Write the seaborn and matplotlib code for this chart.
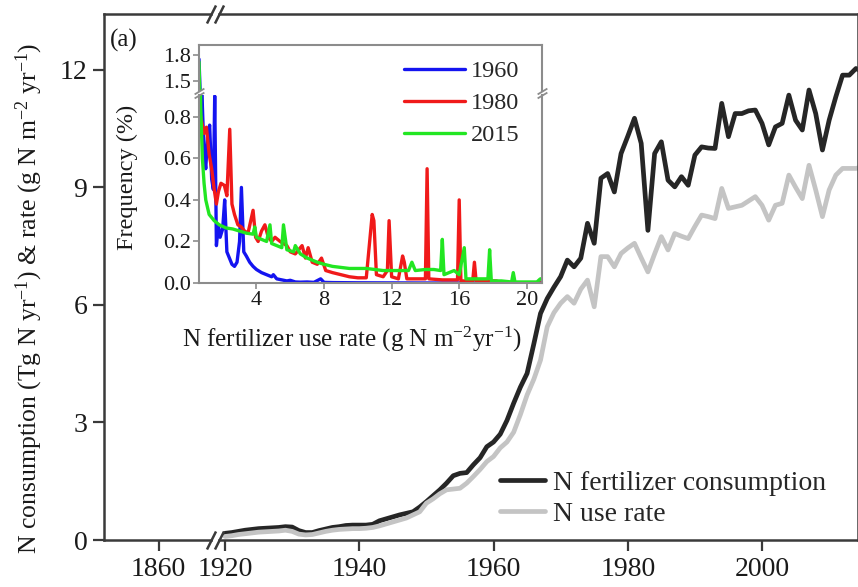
import numpy as np
import pandas as pd
import matplotlib
matplotlib.use("Agg")
import matplotlib.pyplot as plt
import seaborn as sns

# ---------------- main panel data ----------------
years = list(range(1920, 2016))
n_consumption = [
    0.17, 0.19, 0.22, 0.25, 0.27, 0.29, 0.30, 0.31, 0.32, 0.34,   # 1920-29
    0.33, 0.24, 0.19, 0.19, 0.24, 0.28, 0.32, 0.34, 0.37, 0.38,   # 1930-39
    0.38, 0.38, 0.40, 0.49, 0.54, 0.59, 0.64, 0.68, 0.72, 0.84,   # 1940-49
    0.98, 1.13, 1.28, 1.45, 1.64, 1.70, 1.72, 1.92, 2.10, 2.38,   # 1950-59
    2.50, 2.70, 3.05, 3.49, 3.90, 4.25, 5.00, 5.78, 6.16, 6.45,   # 1960-69
    6.72, 7.14, 6.97, 7.19, 8.08, 7.57, 9.23, 9.35, 8.88, 9.86,   # 1970-79
    10.30, 10.76, 10.12, 7.90, 9.86, 10.16, 9.18, 9.01, 9.27, 9.05,  # 1980-89
    9.82, 10.03, 10.00, 9.99, 11.14, 10.29, 10.88, 10.88, 10.95, 10.97,  # 1990-99
    10.63, 10.08, 10.54, 10.63, 11.35, 10.71, 10.46, 11.48, 10.88, 9.95,  # 2000-09
    10.71, 11.31, 11.86, 11.86, 12.03, 11.95,                        # 2010-15
]
n_use_rate = [
    0.09, 0.11, 0.14, 0.16, 0.18, 0.20, 0.21, 0.22, 0.23, 0.25,
    0.22, 0.15, 0.13, 0.14, 0.18, 0.22, 0.25, 0.27, 0.28, 0.29,
    0.29, 0.30, 0.32, 0.36, 0.41, 0.46, 0.51, 0.56, 0.64, 0.72,
    0.94, 1.05, 1.18, 1.28, 1.30, 1.32, 1.45, 1.62, 1.80, 2.00,
    2.13, 2.35, 2.50, 2.75, 3.20, 3.70, 4.10, 4.59, 5.44, 5.80,
    6.04, 6.21, 6.04, 6.40, 6.63, 5.95, 7.23, 7.23, 6.97, 7.31,
    7.45, 7.57, 7.20, 6.84, 7.30, 7.74, 7.40, 7.82, 7.75, 7.69,
    8.00, 8.29, 8.25, 8.20, 8.97, 8.46, 8.50, 8.54, 8.65, 8.76,
    8.54, 8.16, 8.54, 8.59, 9.31, 9.00, 8.71, 9.56, 8.93, 8.25,
    8.93, 9.31, 9.48, 9.48, 9.48, 9.52,
]
main_labels = ["N fertilizer consumption", "N use rate"]
main_xticks_left = [1860]
main_xticks_right = [1920, 1940, 1960, 1980, 2000]
main_yticks = [0, 3, 6, 9, 12]

# ---------------- inset data ----------------
rate_1960 = [0.6, 0.7, 0.8, 0.9, 1.0, 1.1, 1.23, 1.35, 1.45, 1.53, 1.63, 1.75, 1.85,
             2.0, 2.12, 2.25, 2.4, 2.55, 2.7, 2.85, 3.0, 3.11, 3.25, 3.4, 3.6, 3.8,
             4.0, 4.3, 4.6, 4.9, 5.0, 5.2, 5.5, 5.8, 6.0, 6.3, 6.6, 7.0, 7.4, 7.8,
             8.0, 8.5, 10.0, 14.0, 20.9]
freq_1960 = [1.75, 1.2, 0.85, 0.62, 0.55, 0.70, 0.76, 0.50, 0.45, 0.90, 0.18, 0.28, 0.22,
             0.26, 0.40, 0.15, 0.12, 0.09, 0.08, 0.10, 0.20, 0.46, 0.15, 0.13, 0.10, 0.08,
             0.065, 0.05, 0.04, 0.03, 0.04, 0.02, 0.015, 0.01, 0.013, 0.005, 0.004, 0.005,
             0.003, 0.02, 0.003, 0.002, 0.001, 0.0, 0.0]
rate_1980 = [0.6, 0.75, 0.9, 1.04, 1.2, 1.35, 1.5, 1.63, 1.75, 1.9, 2.1, 2.25, 2.42, 2.55,
             2.7, 2.9, 3.1, 3.3, 3.5, 3.8, 3.95, 4.1, 4.3, 4.5, 4.7, 4.9, 5.1, 5.4, 5.8,
             6.0, 6.3, 6.7, 6.9, 7.06, 7.3, 7.6, 7.85, 8.1, 8.5, 9.0, 9.5, 10.0, 10.5,
             10.85, 10.95, 11.1, 11.5, 11.75, 11.85, 12.0, 12.4, 12.65, 12.75, 12.9, 13.5,
             14.0, 14.1, 14.2, 15.0, 15.9, 16.0, 16.1, 16.8, 16.9, 17.0, 18.2, 18.5, 20.9]
freq_1980 = [0.84, 0.78, 0.72, 0.75, 0.62, 0.55, 0.45, 0.38, 0.44, 0.48, 0.47, 0.42, 0.74,
             0.38, 0.33, 0.28, 0.27, 0.25, 0.24, 0.35, 0.22, 0.20, 0.25, 0.28, 0.22, 0.20,
             0.22, 0.20, 0.18, 0.15, 0.14, 0.18, 0.12, 0.17, 0.10, 0.09, 0.12, 0.06, 0.05,
             0.04, 0.03, 0.025, 0.025, 0.33, 0.30, 0.04, 0.03, 0.06, 0.30, 0.03, 0.02, 0.13,
             0.10, 0.02, 0.02, 0.02, 0.55, 0.02, 0.015, 0.015, 0.40, 0.01, 0.01, 0.10, 0.01,
             0.01, 0.0, 0.0]
rate_2015 = [0.6, 0.64, 0.7, 0.8, 0.9, 1.0, 1.2, 1.5, 1.8, 2.2, 2.6, 3.0, 3.4, 3.8, 3.9,
             4.0, 4.3, 4.6, 4.8, 4.9, 5.2, 5.5, 5.6, 5.8, 6.2, 6.3, 6.6, 7.0, 7.6, 8.0,
             8.5, 9.0, 9.5, 10.0, 10.5, 11.0, 11.5, 12.0, 12.5, 13.0, 13.2, 13.4, 14.0,
             14.5, 14.9, 15.0, 15.1, 15.4, 15.7, 16.0, 16.3, 16.4, 16.6, 17.0, 17.7, 17.8,
             17.9, 18.5, 19.1, 19.2, 19.3, 20.0, 20.6, 20.8, 20.9]
freq_2015 = [1.72, 1.40, 0.85, 0.60, 0.48, 0.40, 0.33, 0.30, 0.28, 0.265, 0.26, 0.25, 0.24,
             0.235, 0.27, 0.22, 0.21, 0.20, 0.28, 0.19, 0.18, 0.17, 0.28, 0.16, 0.15, 0.18,
             0.14, 0.12, 0.10, 0.09, 0.08, 0.075, 0.07, 0.07, 0.07, 0.065, 0.06, 0.06, 0.06,
             0.06, 0.10, 0.06, 0.065, 0.065, 0.06, 0.21, 0.04, 0.05, 0.06, 0.04, 0.17, 0.02,
             0.02, 0.02, 0.02, 0.16, 0.01, 0.01, 0.005, 0.05, 0.005, 0.005, 0.005, 0.02, 0.02]
inset_years = ["1960", "1980", "2015"]
inset_colors = ["#1414f0", "#f01a1a", "#22e622"]
inset_xticks = [4, 8, 12, 16, 20]
inset_yticks_low = [0.0, 0.2, 0.4, 0.6, 0.8]
inset_yticks_up = [1.5, 1.8]

# ---------------- style ----------------
sns.set_theme(style="ticks")
plt.rcParams["font.family"] = ["Liberation Serif", "DejaVu Serif"]
plt.rcParams["mathtext.fontset"] = "custom"
plt.rcParams["mathtext.rm"] = "Liberation Serif"
plt.rcParams["mathtext.it"] = "Liberation Serif:italic"
plt.rcParams["mathtext.bf"] = "Liberation Serif:bold"
plt.rcParams["axes.unicode_minus"] = True

W, H = 858, 587
fig = plt.figure(figsize=(W / 100, H / 100), dpi=100)

def fx(px):
    return px / W

def fy(py):
    return 1 - py / H

spine_c = "#3a3a3a"
main_fs = 20

# main axes (broken x axis)
top_px, bot_px = 14, 540
axL = fig.add_axes([fx(104), fy(bot_px), fx(211) - fx(104), (bot_px - top_px) / H])
axR = fig.add_axes([fx(219), fy(bot_px), fx(858) - fx(219), (bot_px - top_px) / H], sharey=axL)

df_main = pd.DataFrame({
    "year": years * 2,
    "value": n_consumption + n_use_rate,
    "series": [main_labels[0]] * len(years) + [main_labels[1]] * len(years),
})
sns.lineplot(data=df_main, x="year", y="value", hue="series",
             palette=["#262626", "#c4c4c4"], linewidth=3.4, estimator=None,
             sort=False, legend=False, ax=axR)
main_lines = axR.get_lines()[:2]

axL.set_xlim(1851.9, 1867.8)
axR.set_xlim(1919.1, 2014.3)
axL.set_ylim(0, 13.42)
axL.set_xticks(main_xticks_left)
axR.set_xticks(main_xticks_right)
axL.set_yticks(main_yticks)
axR.tick_params(axis="y", left=False, labelleft=False)
for ax in (axL, axR):
    ax.set_xlabel("")
    ax.set_ylabel("")
    ax.tick_params(axis="both", direction="out", length=8, width=1.6,
                   color=spine_c, labelsize=main_fs, labelcolor="#1a1a1a", pad=4)
    for s in ax.spines.values():
        s.set_color(spine_c)
        s.set_linewidth(1.8)
axL.spines["right"].set_visible(False)
axR.spines["left"].set_visible(False)

axL.set_ylabel(r"N consumption (Tg N yr$^{-1}$) & rate (g N m$^{-2}$ yr$^{-1}$)",
               fontsize=18.5, color="#1a1a1a")
axL.yaxis.set_label_coords(-0.55, 0.46)

# break marks on main x axis
kw = dict(marker=[(-1, -2), (1, 2)], markersize=13, linestyle="none",
          color=spine_c, mec=spine_c, mew=1.8, clip_on=False)
axL.plot([1, 1], [0, 1], transform=axL.transAxes, **kw)
axR.plot([0, 0], [0, 1], transform=axR.transAxes, **kw)

axR.legend(main_lines, main_labels, loc="lower left", bbox_to_anchor=(0.44, 0.025),
           frameon=False, fontsize=main_fs, handlelength=1.6, handletextpad=0.3,
           labelspacing=0.2, borderpad=0, borderaxespad=0)

fig.text(fx(110), fy(40), "(a)", fontsize=18, va="center", ha="left", color="#1a1a1a")

# ---------------- inset (broken y axis) ----------------
in_left, in_right = 199, 542
in_top, in_break, in_bot = 45, 93, 283
gap = 2
ax_up = fig.add_axes([fx(in_left), fy(in_break - gap), fx(in_right) - fx(in_left),
                      (in_break - gap - in_top) / H])
ax_lo = fig.add_axes([fx(in_left), fy(in_bot), fx(in_right) - fx(in_left),
                      (in_bot - in_break - gap) / H])

df_in = pd.DataFrame({
    "rate": rate_1960 + rate_1980 + rate_2015,
    "freq": freq_1960 + freq_1980 + freq_2015,
    "year": ["1960"] * len(rate_1960) + ["1980"] * len(rate_1980) + ["2015"] * len(rate_2015),
})
for ax in (ax_lo, ax_up):
    sns.lineplot(data=df_in, x="rate", y="freq", hue="year", hue_order=inset_years,
                 palette=inset_colors, linewidth=2.4, estimator=None, sort=False,
                 legend=False, ax=ax)
inset_lines = ax_lo.get_lines()[:3]

in_spine = "#8c8c8c"
in_fs = 16
for ax in (ax_lo, ax_up):
    ax.set_xlim(0.6, 20.9)
    ax.set_xlabel("")
    ax.set_ylabel("")
    for s in ax.spines.values():
        s.set_color(in_spine)
        s.set_linewidth(1.5)
    ax.tick_params(axis="both", direction="out", length=4, width=1.2, color=in_spine,
                   labelsize=in_fs, labelcolor="#1a1a1a", pad=2)
ax_lo.set_ylim(0, 0.905)
ax_up.set_ylim(1.39, 1.91)
ax_lo.set_xticks(inset_xticks)
ax_lo.set_yticks(inset_yticks_low)
ax_lo.set_yticklabels([f"{v:.1f}" for v in inset_yticks_low])
ax_up.set_yticks(inset_yticks_up)
ax_up.set_yticklabels([f"{v:.1f}" for v in inset_yticks_up])
ax_up.set_xticks([])
ax_lo.spines["top"].set_visible(False)
ax_up.spines["bottom"].set_visible(False)

ax_lo.set_xlabel(r"N fertilizer use rate (g N m$^{-2}$yr$^{-1}$)", fontsize=18,
                 color="#1a1a1a")
ax_lo.xaxis.set_label_coords(0.446, -0.22)
ax_lo.set_ylabel("Frequency (%)", fontsize=17.5, color="#1a1a1a")
ax_lo.yaxis.set_label_coords(-0.178, 0.56)

kw2 = dict(marker=[(-1, -0.6), (1, 0.6)], markersize=7, linestyle="none",
           color=in_spine, mec=in_spine, mew=1.3, clip_on=False)
ax_lo.plot([0, 1], [1, 1], transform=ax_lo.transAxes, **kw2)
ax_up.plot([0, 1], [0, 0], transform=ax_up.transAxes, **kw2)

fig.legend(inset_lines, inset_years, loc="upper left",
           bbox_to_anchor=(fx(404), fy(60)), frameon=False, fontsize=17.5,
           handlelength=2.5, handletextpad=0.25, labelspacing=0.42,
           borderpad=0, borderaxespad=0)

fig.savefig("out.png", dpi=100)
